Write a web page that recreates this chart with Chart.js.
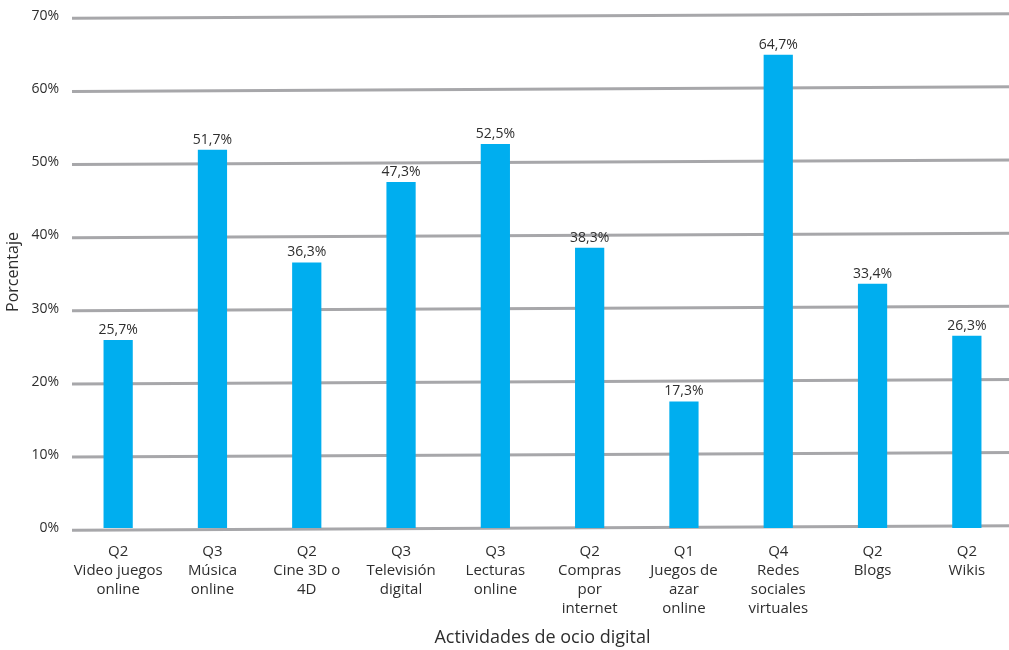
<!DOCTYPE html>
<html lang="es">
<head>
<meta charset="utf-8">
<title>Actividades de ocio digital</title>
<script src="https://cdn.jsdelivr.net/npm/chart.js@4/dist/chart.umd.min.js"></script>
<style>
  html, body { margin: 0; padding: 0; background: #fff; overflow: hidden; }
  #wrap { position: relative; width: 1015px; height: 650px; }
</style>
</head>
<body>
<div id="wrap"><canvas id="chart"></canvas></div>
<script>
"use strict";

const quarters = ["Q2", "Q3", "Q2", "Q3", "Q3", "Q2", "Q1", "Q4", "Q2", "Q2"];
const activities = [
  ["Video juegos", "online"],
  ["Música", "online"],
  ["Cine 3D o", "4D"],
  ["Televisión", "digital"],
  ["Lecturas", "online"],
  ["Compras", "por", "internet"],
  ["Juegos de", "azar", "online"],
  ["Redes", "sociales", "virtuales"],
  ["Blogs"],
  ["Wikis"]
];
const percentages = [25.7, 51.7, 36.3, 47.3, 52.5, 38.3, 17.3, 64.7, 33.4, 26.3];
const yTicks = [0, 10, 20, 30, 40, 50, 60, 70];

const labels = quarters.map((q, i) => [q, ...activities[i]]);
const pct = v => v.toFixed(1).replace(".", ",") + "%";
const FONT = "'Open Sans', 'Noto Sans', sans-serif";
const INK = "#2e2e2e";

/* gridlines: thick grey rules, drawn slightly sloped under the bars */
const slantedGrid = {
  id: "slantedGrid",
  beforeDatasetsDraw(chart) {
    const { ctx, chartArea: a, scales: { y } } = chart;
    const x0 = a.left + 1, x1 = a.right + 2;
    const cx = (a.left + a.right) / 2;
    const slope = -4.5 / 936;
    ctx.save();
    ctx.lineWidth = 3;
    ctx.strokeStyle = "#a7a7aa";
    yTicks.forEach(v => {
      const py = y.getPixelForValue(v);
      ctx.beginPath();
      ctx.moveTo(x0, py + slope * (x0 - cx));
      ctx.lineTo(x1, py + slope * (x1 - cx));
      ctx.stroke();
    });
    ctx.restore();
  }
};

/* value above each bar */
const barValues = {
  id: "barValues",
  afterDatasetsDraw(chart) {
    const { ctx } = chart;
    const meta = chart.getDatasetMeta(0);
    ctx.save();
    ctx.font = "14px " + FONT;
    ctx.fillStyle = INK;
    ctx.textAlign = "center";
    ctx.textBaseline = "bottom";
    meta.data.forEach((bar, i) => {
      ctx.fillText(pct(percentages[i]), bar.x, bar.y - 3);
    });
    ctx.restore();
  }
};

new Chart(document.getElementById("chart"), {
  type: "bar",
  data: {
    labels,
    datasets: [{
      data: percentages,
      backgroundColor: "#00aeef",
      borderWidth: 0,
      categoryPercentage: 0.31,
      barPercentage: 1
    }]
  },
  options: {
    responsive: true,
    maintainAspectRatio: false,
    animation: false,
    layout: { padding: { top: 16, right: 1, bottom: 0, left: 0 } },
    plugins: { legend: { display: false }, tooltip: { enabled: false } },
    scales: {
      x: {
        grid: { display: false },
        border: { display: false },
        ticks: {
          color: INK, padding: 6, maxRotation: 0, autoSkip: false,
          font: { family: FONT, size: 15, lineHeight: 1.27 }
        },
        title: {
          display: true, text: "Actividades de ocio digital", color: INK,
          font: { family: FONT, size: 18 }, padding: { top: 4, bottom: 1 }
        },
        afterFit(s) { s.height = 122; }
      },
      y: {
        min: 0, max: 70,
        grid: { display: false },
        border: { display: false },
        ticks: {
          stepSize: 10, color: INK, padding: 4,
          font: { family: FONT, size: 14 },
          callback: v => v + "%"
        },
        title: {
          display: true, text: "Porcentaje", color: INK,
          font: { family: FONT, size: 16 }, padding: 4
        },
        afterFit(s) { s.width = 71; }
      }
    }
  },
  plugins: [slantedGrid, barValues]
});
</script>
</body>
</html>
